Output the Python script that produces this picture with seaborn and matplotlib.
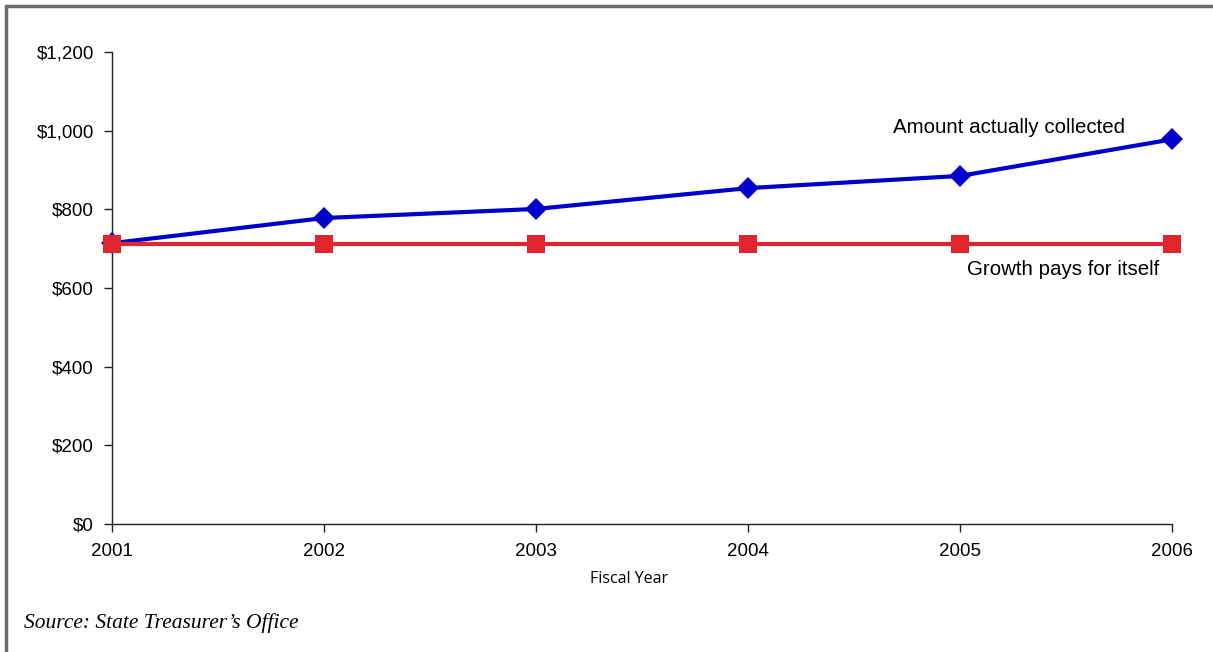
import numpy as np
import pandas as pd
import seaborn as sns
import matplotlib.pyplot as plt
from matplotlib.lines import Line2D
from matplotlib.ticker import FuncFormatter

# values ($ millions)
years = [2001, 2002, 2003, 2004, 2005, 2006]
collected = [714, 778, 801, 854, 885, 978]
growth_pays = [712, 712, 712, 712, 712, 712]

df = pd.DataFrame({"year": years, "collected": collected, "growth": growth_pays})

sns.set_style("white")
plt.rcParams['font.family'] = ['Liberation Sans', 'DejaVu Sans']
plt.rcParams['text.color'] = 'black'
plt.rcParams['xtick.color'] = '#222222'
plt.rcParams['ytick.color'] = '#222222'
plt.rcParams['xtick.labelcolor'] = 'black'
plt.rcParams['ytick.labelcolor'] = 'black'

fig = plt.figure(figsize=(12.13, 6.52), dpi=100)
ax = fig.add_axes([0.0923, 0.1963, 0.8739, 0.7239])

sns.lineplot(data=df, x="year", y="collected", ax=ax, color="#0000CC", lw=3,
             marker="D", markersize=11, markeredgewidth=0, clip_on=False, zorder=3)
sns.lineplot(data=df, x="year", y="growth", ax=ax, color="#E0262E", lw=3,
             marker="s", markersize=12.5, markeredgewidth=0, clip_on=False, zorder=4)

ax.set_xlim(2001, 2006)
ax.set_ylim(0, 1200)
ax.set_xticks(years)
ax.set_yticks(np.arange(0, 1201, 200))
ax.yaxis.set_major_formatter(FuncFormatter(lambda v, p: "${:,.0f}".format(v)))
ax.tick_params(axis="both", labelsize=13.5, direction="out", length=6, width=1,
               left=True, bottom=True)
ax.tick_params(axis="y", pad=7)
ax.tick_params(axis="x", pad=8)
for s in ["top", "right"]:
    ax.spines[s].set_visible(False)
for s in ["left", "bottom"]:
    ax.spines[s].set_color("#222222")
    ax.spines[s].set_linewidth(1)

ax.set_ylabel("")
ax.set_xlabel("Fiscal Year", fontsize=11.5, family="Open Sans", color="black")
ax.xaxis.set_label_coords(0.488, -0.10)

ax.text(2004.684, 1009, "Amount actually collected", fontsize=14.8, va="center")
ax.text(2005.033, 648, "Growth pays for itself", fontsize=14.8, va="center")

fig.text(0.02, 0.037, "Source: State Treasurer\u2019s Office", fontsize=15.5,
         family="Liberation Serif", style="italic")

# grey frame (top and left edges)
fig.add_artist(Line2D([0.005, 0.005], [0, 0.991], transform=fig.transFigure,
                      color="#6b6b6b", lw=2.5))
fig.add_artist(Line2D([0.005, 1], [0.991, 0.991], transform=fig.transFigure,
                      color="#6b6b6b", lw=2.5))

fig.savefig("out.png", dpi=100)
